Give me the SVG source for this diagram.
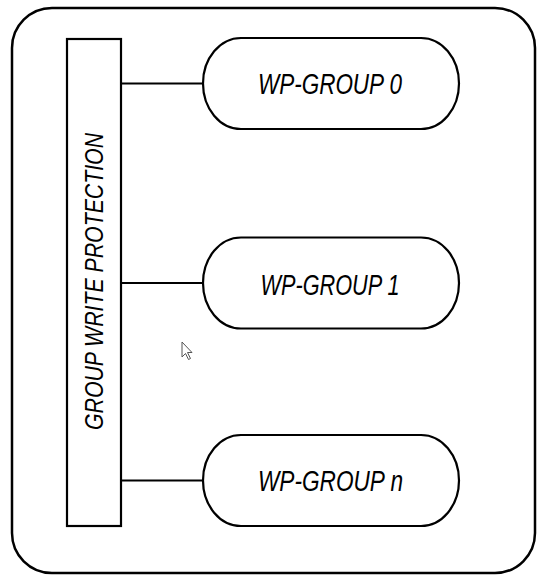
<svg xmlns="http://www.w3.org/2000/svg" width="537" height="575" viewBox="0 0 537 575">
  <style>
    .frame { fill: none; stroke: #000; stroke-width: 2.5; }
    .box { fill: #fff; stroke: #000; stroke-width: 2.2; }
    .link { stroke: #000; stroke-width: 2.2; fill: none; }
    .label { font-family: "Liberation Sans", Arial, sans-serif; font-style: italic; font-size: 29px; fill: #000; text-anchor: middle; }
    .vlabel { font-family: "Liberation Sans", Arial, sans-serif; font-style: italic; font-size: 25px; fill: #000; text-anchor: middle; }
  </style>
  <rect width="537" height="575" fill="#fff"/>

  <!-- outer enclosure -->
  <rect class="frame" x="12" y="8" width="523" height="565" rx="40" ry="40"/>

  <!-- connectors from the bar to each group -->
  <g id="connectors">
    <line class="link" x1="121" y1="83.5" x2="203" y2="83.5"/>
    <line class="link" x1="121" y1="283" x2="203" y2="283"/>
    <line class="link" x1="121" y1="480.5" x2="203" y2="480.5"/>
  </g>

  <g id="group-write-protection">
    <rect class="box" x="67" y="39" width="54" height="487"/>
    <text class="vlabel" transform="translate(102.5 281.5) rotate(-90)" x="0" y="0" textLength="297" lengthAdjust="spacingAndGlyphs">GROUP WRITE PROTECTION</text>
  </g>

  <g id="wp-group-0">
    <rect class="box" x="203" y="38" width="256" height="91" rx="38" ry="45.5"/>
    <text class="label" x="330" y="94" textLength="144" lengthAdjust="spacingAndGlyphs">WP-GROUP 0</text>
  </g>

  <g id="wp-group-1">
    <rect class="box" x="203" y="237.5" width="256" height="91" rx="38" ry="45.5"/>
    <text class="label" x="330" y="294.5" textLength="139" lengthAdjust="spacingAndGlyphs">WP-GROUP 1</text>
  </g>

  <g id="wp-group-n">
    <rect class="box" x="203" y="435" width="256" height="91" rx="38" ry="45.5"/>
    <text class="label" x="330.5" y="491" textLength="145" lengthAdjust="spacingAndGlyphs">WP-GROUP n</text>
  </g>

  <!-- pointer -->
  <path d="M182 342 L182 357 L185.5 353.5 L188.5 359.5 L190.5 358.5 L187.5 352.5 L192 352.5 Z" fill="#fff" stroke="#555" stroke-width="1" stroke-linejoin="miter"/>
</svg>
